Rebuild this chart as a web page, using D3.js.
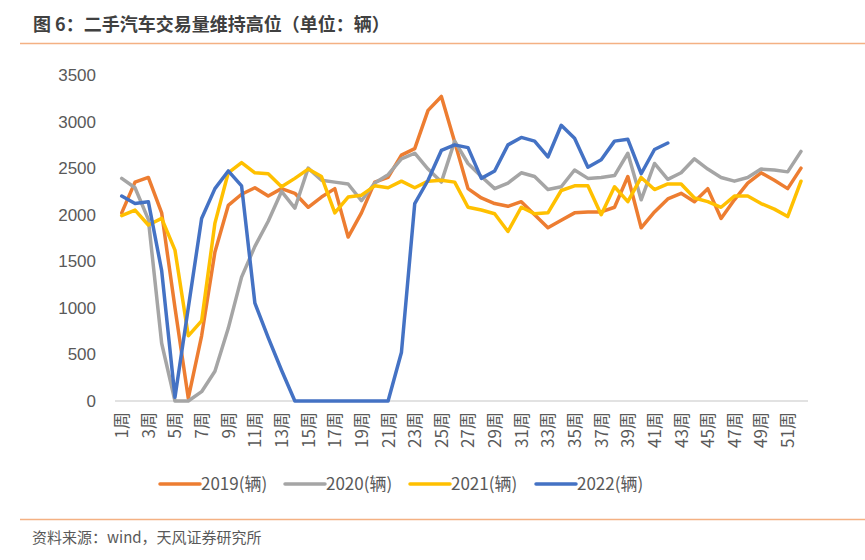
<!DOCTYPE html>
<html><head><meta charset="utf-8">
<script src="https://cdn.jsdelivr.net/npm/d3@7"></script>
<style>body{margin:0;background:#fff}svg{display:block}</style>
</head><body>
<svg id="c" width="865" height="560"></svg>
<script>
const title = "图 6：二手汽车交易量维持高位（单位：辆）";
const source = "资料来源：wind，天风证券研究所";
const weeks = d3.range(1, 53).map(i => i + "周");
const yTicks = [0, 500, 1000, 1500, 2000, 2500, 3000, 3500];
const seriesNames = ["2019(辆)", "2020(辆)", "2021(辆)", "2022(辆)"];
const seriesColors = ["#ED7D31", "#A5A5A5", "#FFC000", "#4472C4"];
const v2019 = [2020,2350,2400,2020,1000,30,700,1600,2100,2220,2290,2200,2280,2230,2080,2190,2280,1760,2020,2350,2400,2640,2710,3120,3270,2780,2280,2180,2120,2090,2140,2000,1860,1940,2020,2030,2030,2080,2410,1860,2030,2170,2230,2140,2280,1960,2160,2340,2450,2370,2280,2500];
const v2020 = [2390,2290,1950,620,0,0,100,320,780,1330,1660,1930,2250,2070,2500,2370,2350,2330,2150,2340,2430,2600,2660,2490,2350,2790,2550,2410,2280,2340,2450,2410,2270,2300,2480,2390,2400,2420,2660,2160,2550,2380,2450,2600,2490,2400,2360,2400,2490,2480,2460,2680];
const v2021 = [1990,2050,1890,1960,1620,700,860,1910,2450,2560,2450,2440,2300,2390,2490,2410,2020,2190,2210,2310,2290,2360,2290,2360,2370,2350,2080,2050,2010,1820,2080,2010,2020,2260,2310,2310,2000,2300,2140,2400,2270,2330,2330,2180,2140,2080,2200,2200,2120,2060,1980,2360];
const v2022 = [2200,2120,2140,1400,40,1000,1960,2280,2470,2310,1050,680,330,0,0,0,0,0,0,0,0,520,2120,2370,2690,2750,2720,2390,2470,2750,2830,2790,2620,2960,2820,2510,2590,2790,2810,2440,2700,2770];
const seriesValues = [v2019, v2020, v2021, v2022];

const svg = d3.select("#c");
const font = "'Noto Sans CJK SC','Noto Sans',sans-serif";

svg.append("text").attr("x", 33).attr("y", 31).attr("font-family", font)
  .style("font-size", "18px").attr("font-weight", "bold").attr("fill", "#404040").text(title);
svg.append("line").attr("x1", 20).attr("x2", 865).attr("y1", 43.5).attr("y2", 43.5)
  .attr("stroke", "#F4B183").attr("stroke-width", 1.5);
svg.append("line").attr("x1", 20).attr("x2", 865).attr("y1", 519.5).attr("y2", 519.5)
  .attr("stroke", "#F4B183").attr("stroke-width", 1.5);
svg.append("text").attr("x", 32).attr("y", 543).attr("font-family", font)
  .style("font-size", "15px").attr("fill", "#595959").text(source);

const x = d3.scalePoint().domain(weeks).range([121.7, 801]);
const y = d3.scaleLinear().domain([0, 3500]).range([401, 75]);

const xAxis = svg.append("g").attr("transform", "translate(0,401)")
  .call(d3.axisBottom(x).tickSize(0).tickValues(weeks.filter((d, i) => i % 2 === 0)));
xAxis.select(".domain").attr("d", "M115,0H808").attr("stroke", "#D9D9D9").attr("stroke-width", 1.5);
xAxis.selectAll("text").attr("font-family", font).style("font-size", "17px").attr("fill", "#595959")
  .attr("transform", "rotate(-90)").attr("text-anchor", "end").attr("dy", "0.35em")
  .attr("x", -11).attr("y", 0);

const yAxis = svg.append("g").attr("transform", "translate(96,0)")
  .call(d3.axisLeft(y).tickValues(yTicks).tickSize(0).tickPadding(0).tickFormat(d3.format("d")));
yAxis.select(".domain").remove();
yAxis.selectAll("text").attr("font-family", "'Liberation Sans',Arial,sans-serif").style("font-size", "17px").attr("fill", "#595959");

const line = d3.line().x((d, i) => x(weeks[i])).y(d => y(d));
seriesValues.forEach((vals, k) => {
  svg.append("path").datum(vals).attr("d", line).attr("fill", "none")
    .attr("stroke", seriesColors[k]).attr("stroke-width", 3.5)
    .attr("stroke-linejoin", "round").attr("stroke-linecap", "round");
});

const legendX = [160, 285, 410, 536];
const legend = svg.append("g");
seriesNames.forEach((n, k) => {
  legend.append("line").attr("x1", legendX[k]).attr("x2", legendX[k] + 40)
    .attr("y1", 484).attr("y2", 484).attr("stroke", seriesColors[k]).attr("stroke-width", 3.5)
    .attr("stroke-linecap", "round");
  legend.append("text").attr("x", legendX[k] + 41).attr("y", 490).attr("font-family", font)
    .style("font-size", "17px").attr("fill", "#595959").text(n);
});
</script>
</body></html>
